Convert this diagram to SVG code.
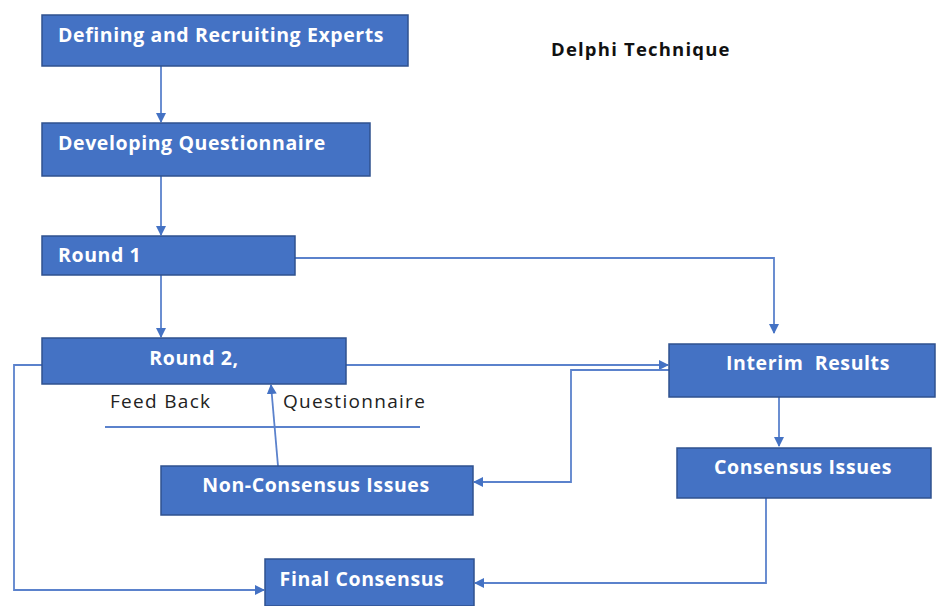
<svg xmlns="http://www.w3.org/2000/svg" width="936" height="606" viewBox="0 0 936 606">
<defs>
<style>
.box{fill:#4472C4;stroke:#2F528F;stroke-width:1.5}
.bt{font-family:"Open Sans","Liberation Sans",Arial,sans-serif;font-weight:bold;font-size:19.5px;letter-spacing:0.6px;fill:#fff}
.lt{font-family:"Open Sans","Liberation Sans",Arial,sans-serif;font-size:19px;letter-spacing:1.3px;fill:#222}
.ln{fill:none;stroke:#5B82CC;stroke-width:1.8}
</style>
<marker id="ah" viewBox="0 0 10 10" refX="9" refY="5" markerWidth="10" markerHeight="11" orient="auto" markerUnits="userSpaceOnUse" >
<path d="M0,0 L10,5 L0,10 z" fill="#4472C4"/>
</marker>
</defs>
<rect width="936" height="606" fill="#fff"/>
<text x="551" y="56" font-family="Open Sans,Liberation Sans,Arial,sans-serif" font-weight="bold" font-size="18.5" letter-spacing="1.2" fill="#111">Delphi Technique</text>
<g id="connectors">
<line class="ln" x1="161" y1="66" x2="161" y2="122" marker-end="url(#ah)"/>
<line class="ln" x1="161" y1="176" x2="161" y2="235" marker-end="url(#ah)"/>
<line class="ln" x1="161" y1="275" x2="161" y2="337" marker-end="url(#ah)"/>
<polyline class="ln" points="295,258 774,258 774,333" marker-end="url(#ah)"/>
<line class="ln" x1="346" y1="365" x2="668" y2="365" marker-end="url(#ah)"/>
<polyline class="ln" points="669,370 571,370 571,482 474,482" marker-end="url(#ah)"/>
<line class="ln" x1="278" y1="466" x2="271" y2="385" marker-end="url(#ah)"/>
<polyline class="ln" points="42,365 14,365 14,590 264,590" marker-end="url(#ah)"/>
<line class="ln" x1="779" y1="397" x2="779" y2="446" marker-end="url(#ah)"/>
<polyline class="ln" points="766,498 766,583 475,583" marker-end="url(#ah)"/>
<line class="ln" x1="105" y1="427" x2="420" y2="427"/>
</g>
<g id="n1"><rect class="box" x="42" y="15" width="366" height="51"/><text class="bt" x="58" y="42">Defining and Recruiting Experts</text></g>
<g id="n2"><rect class="box" x="42" y="123" width="328" height="53"/><text class="bt" x="58" y="150">Developing Questionnaire</text></g>
<g id="n3"><rect class="box" x="42" y="236" width="253" height="39"/><text class="bt" x="58" y="262">Round 1</text></g>
<g id="n4"><rect class="box" x="42" y="338" width="304" height="46"/><text class="bt" x="194" y="365" text-anchor="middle">Round 2,</text></g>
<g id="lbl"><text class="lt" x="110" y="408">Feed Back</text><text class="lt" x="283" y="408">Questionnaire</text></g>
<g id="n5"><rect class="box" x="669" y="344" width="266" height="53"/><text class="bt" x="808" y="370" text-anchor="middle" xml:space="preserve">Interim  Results</text></g>
<g id="n6"><rect class="box" x="161" y="466" width="312" height="49"/><text class="bt" x="316" y="492" text-anchor="middle">Non-Consensus Issues</text></g>
<g id="n7"><rect class="box" x="677" y="448" width="254" height="50"/><text class="bt" x="803" y="474" text-anchor="middle">Consensus Issues</text></g>
<g id="n8"><rect class="box" x="265" y="559" width="209" height="47"/><text class="bt" x="362" y="586" text-anchor="middle">Final Consensus</text></g>
</svg>
